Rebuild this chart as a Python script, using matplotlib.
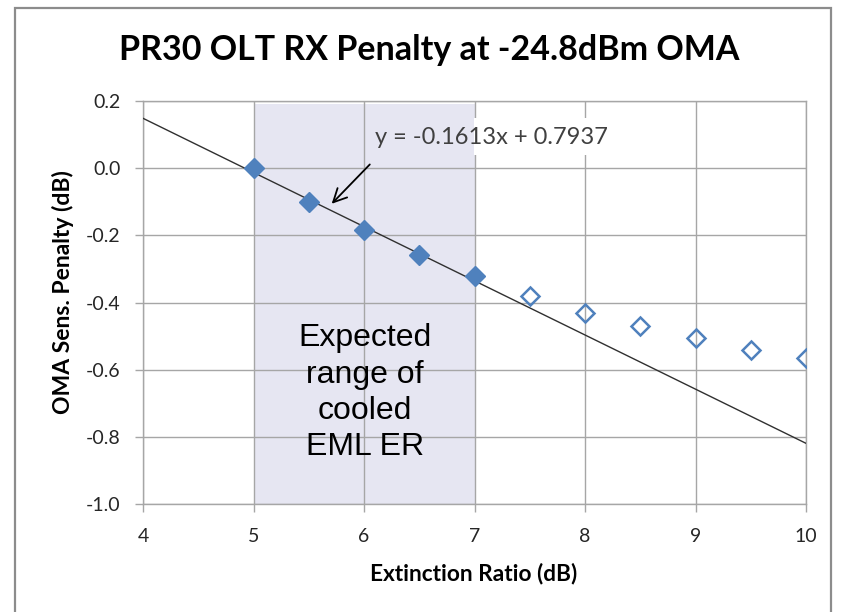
import matplotlib
matplotlib.use("Agg")
import matplotlib.pyplot as plt
from matplotlib.patches import Rectangle
import numpy as np

# ---- data ----
er_fit = [5.0, 5.5, 6.0, 6.5, 7.0]
pen_fit = [0.0, -0.10, -0.185, -0.26, -0.32]
er_ext = [7.5, 8.0, 8.5, 9.0, 9.5, 10.0]
pen_ext = [-0.38, -0.43, -0.47, -0.505, -0.54, -0.565]
slope, intercept = -0.1613, 0.7937
trend_x = [4.0, 10.0]
shade_range = [5.0, 7.0]
x_ticks = [4, 5, 6, 7, 8, 9, 10]
y_ticks = [-1.0, -0.8, -0.6, -0.4, -0.2, 0.0, 0.2]
y_ticklabels = ["-1.0", "-0.8", "-0.6", "-0.4", "-0.2", "0.0", "0.2"]
title = "PR30 OLT RX Penalty at -24.8dBm OMA"
xlabel = "Extinction Ratio (dB)"
ylabel = "OMA Sens. Penalty (dB)"
eq_text = "y = -0.1613x + 0.7937"
range_text = "Expected\nrange of\ncooled\nEML ER"

cal = ["Lato", "DejaVu Sans"]
ari = ["Liberation Sans", "DejaVu Sans"]

W, H = 846, 612
fig = plt.figure(figsize=(W/100, H/100), dpi=100)
fig.patch.set_facecolor("white")
# outer border
fig.add_artist(Rectangle((15/W, -0.01), (831-15)/W, 1 - 8/H + 0.01,
                         transform=fig.transFigure, fill=False,
                         edgecolor="#8c8c8c", lw=1.6))

ax = fig.add_axes([143/W, 1-504/H, (806-143)/W, (504-101)/H])
ax.set_xlim(4, 10)
ax.set_ylim(-1.0, 0.2)

# shaded region
ax.axvspan(shade_range[0], shade_range[1], ymin=0, ymax=(0.19+1.0)/1.2,
           color="#e6e6f2", zorder=0.2, lw=0)

ax.set_xticks(x_ticks)
ax.set_yticks(y_ticks)
ax.set_yticklabels(y_ticklabels)
ax.grid(True, color="#a6a6a6", lw=1.0)
ax.set_axisbelow(True)
for s in ax.spines.values():
    s.set_color("#a6a6a6")
    s.set_linewidth(1.0)
ax.tick_params(axis="y", color="#a6a6a6", length=6, width=1.0,
               labelsize=14, pad=10, labelcolor="#262626")
ax.tick_params(axis="x", color="#a6a6a6", length=6, width=1.0,
               labelsize=14, pad=11, labelcolor="#262626")
for lab in ax.get_xticklabels() + ax.get_yticklabels():
    lab.set_fontfamily(cal)

# trend line
tx = np.array(trend_x)
ax.plot(tx, slope*tx + intercept, color="#303030", lw=1.0, zorder=3)

ax.plot(er_fit, pen_fit, linestyle="none", marker="D", markersize=10,
        color="#4f81bd", zorder=4)
ax.plot(er_ext, pen_ext, linestyle="none", marker="D", markersize=9,
        markerfacecolor="none", markeredgecolor="#4f81bd",
        markeredgewidth=1.8, zorder=4)

# equation label with white box outside the shaded band
ax.add_patch(Rectangle((6.995, 0.039), 8.25 - 6.995, 0.149 - 0.039,
                       facecolor="white", edgecolor="none", zorder=0.8))
ax.text(6.10, 0.09, eq_text, fontsize=17, family=cal, color="#404040",
        va="center", ha="left", zorder=5)
ax.annotate("", xy=(5.69, -0.112), xytext=(6.07, 0.017),
            arrowprops=dict(arrowstyle="->", color="black", lw=1.3,
                            mutation_scale=24), zorder=5)

ax.text(6.01, -0.669, range_text, fontsize=23, family=ari, color="black",
        ha="center", va="center", linespacing=1.28, zorder=5)

fig.text(429/W, 1-50/H, title, fontsize=24.5, fontweight="bold",
         family=cal, ha="center", va="center")
fig.text(474/W, 1-573/H, xlabel, fontsize=16.3, fontweight="bold",
         family=cal, ha="center", va="center")
fig.text(63/W, 1-292/H, ylabel, fontsize=16.5, fontweight="bold",
         family=cal, ha="center", va="center", rotation=90)

fig.savefig("out.png", dpi=100)
